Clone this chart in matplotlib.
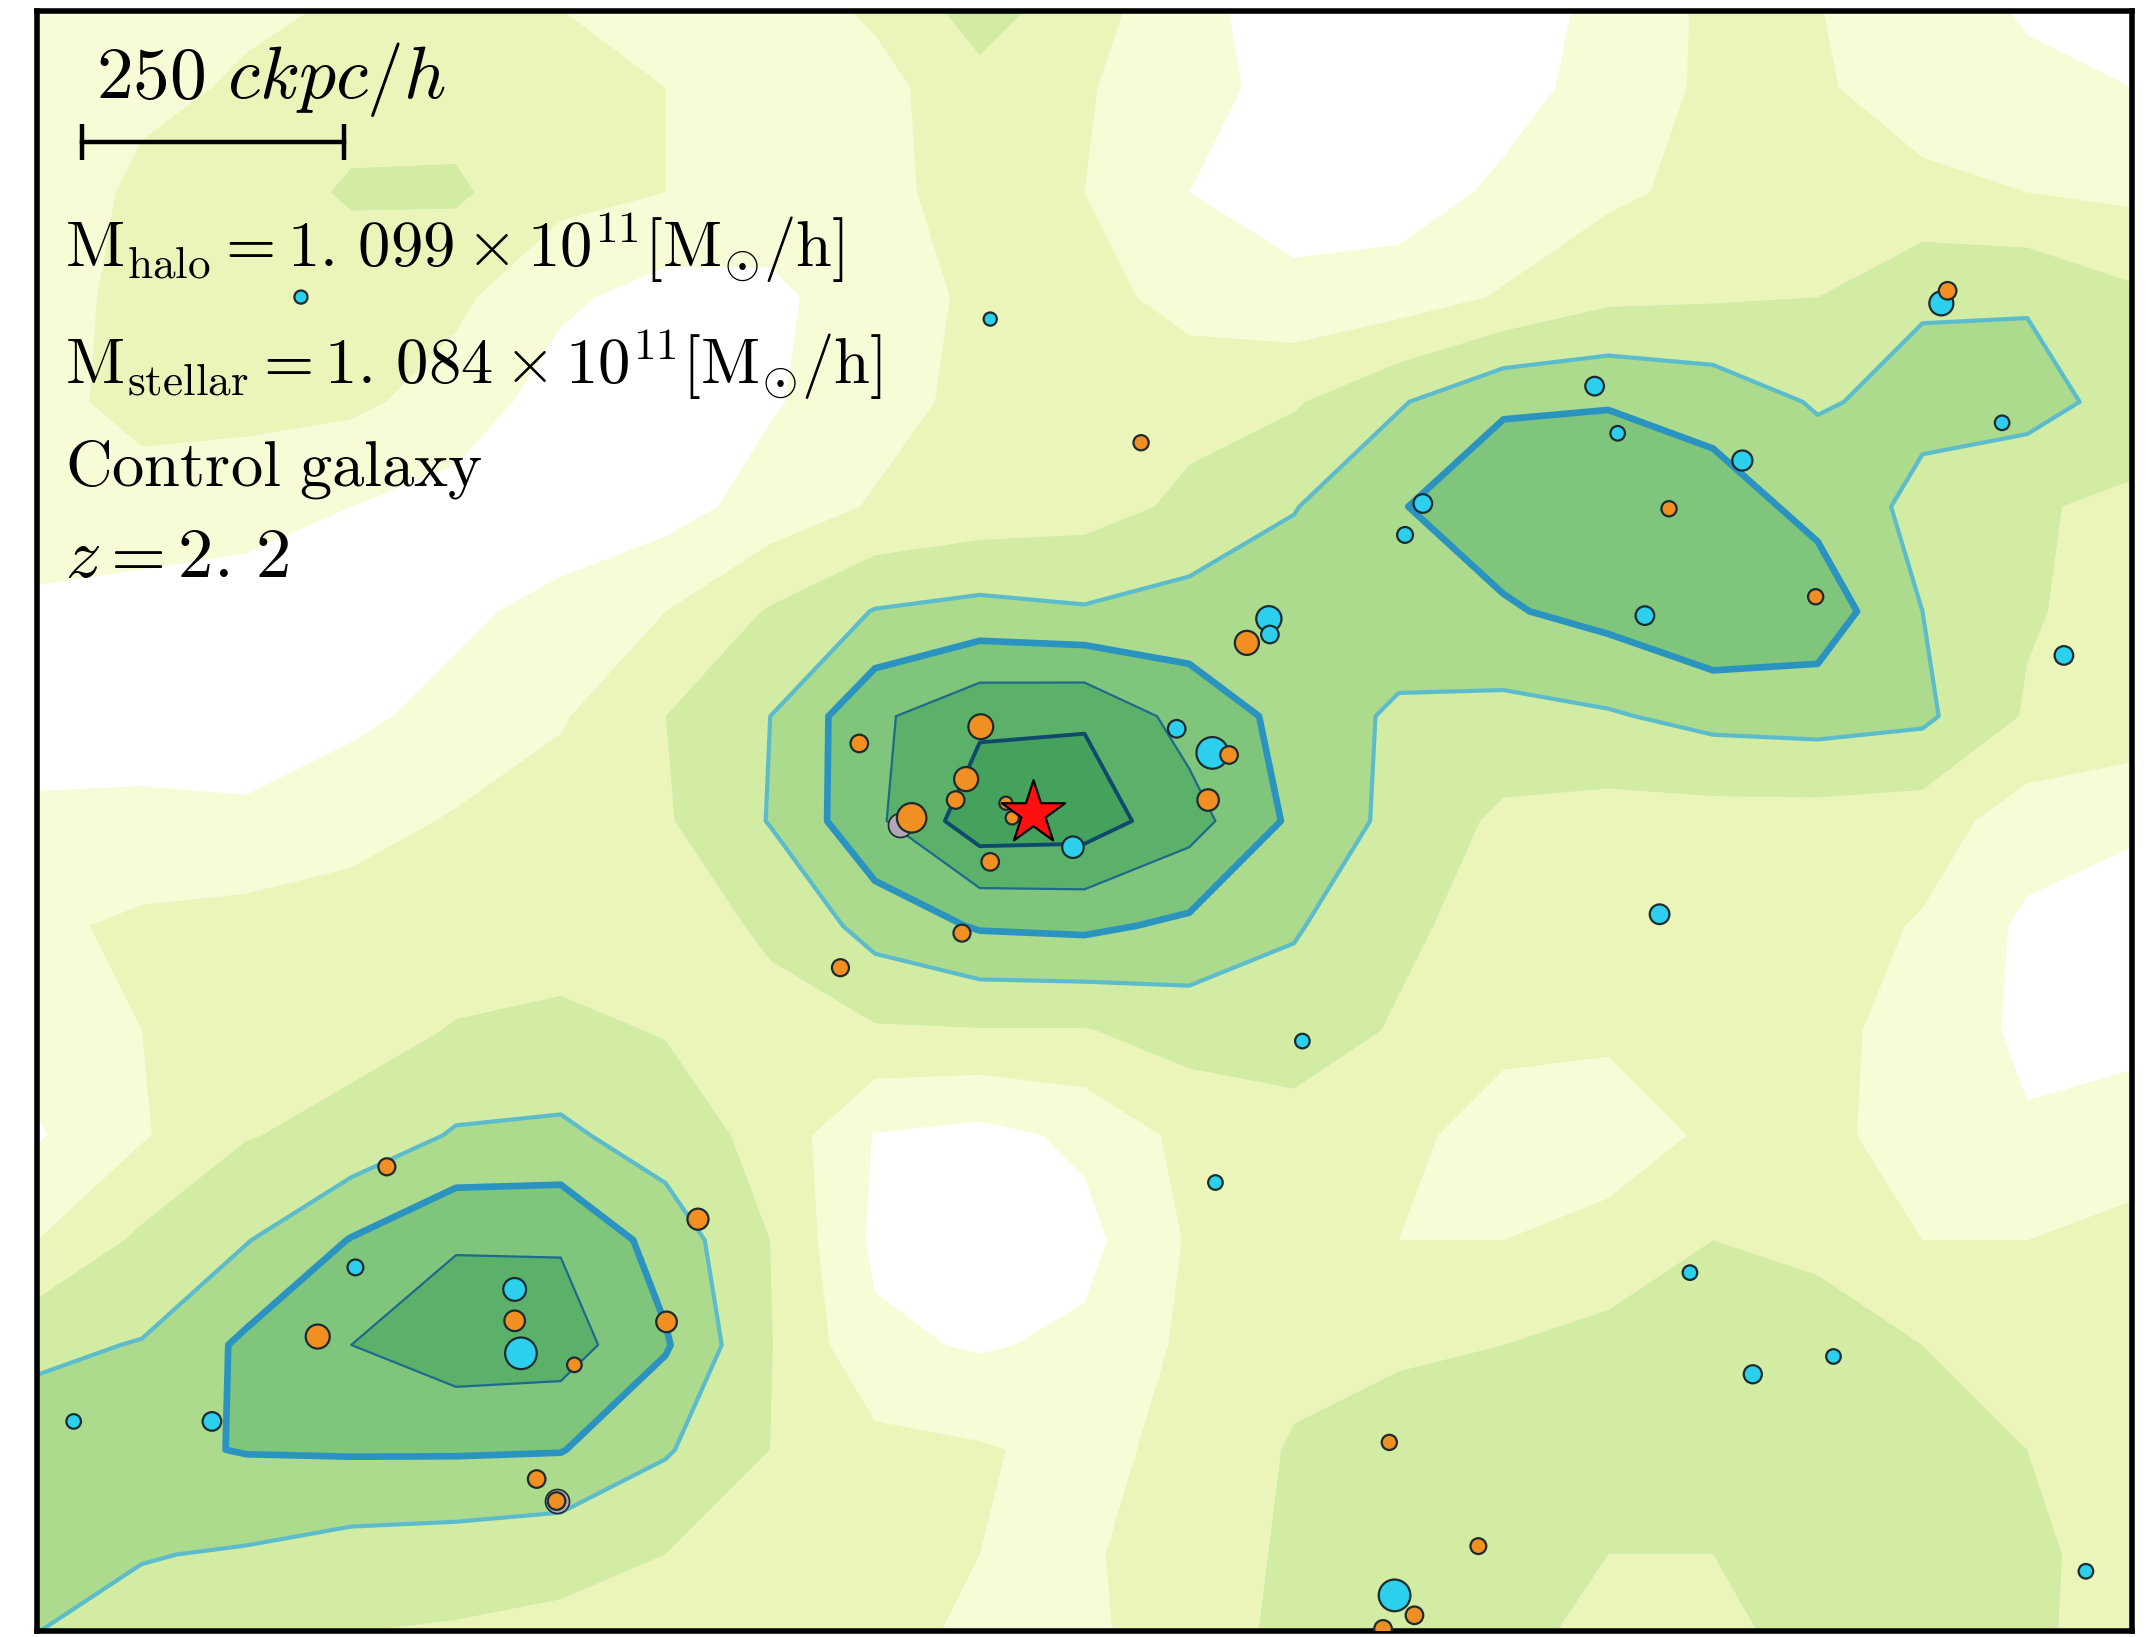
import numpy as np
import matplotlib
matplotlib.use("Agg")
import matplotlib.pyplot as plt

plt.rcParams['mathtext.fontset'] = 'cm'

# grid nodes of the smoothed density map (ckpc/h), rows listed from top to bottom
x_nodes = np.arange(-1000, 1001, 100)
y_nodes = np.arange(800, -801, -100)

# density level (0 = white ... 7+ = darkest green)
dens_rows = [
    [1.4, 1.6, 1.8, 2.0, 2.0, 1.9, 1.6, 1.7, 2.3, 3.9, 2.6, 1.3, 0.4, 0.2, 0.3, 1.3, 2.2, 2.0, 1.5, 0.7, 0.5],
    [1.5, 1.8, 2.1, 2.5, 2.6, 2.3, 2.0, 1.6, 1.7, 2.6, 2.1, 1.3, 0.7, 0.5, 0.6, 1.4, 2.2, 2.1, 1.6, 1.3, 1.0],
    [1.4, 2.2, 2.4, 3.15, 3.15, 2.3, 2.0, 1.5, 1.8, 2.3, 2.0, 1.0, 0.5, 0.5, 1.2, 1.8, 2.3, 2.5, 2.2, 2.0, 1.8],
    [1.6, 2.3, 2.4, 2.3, 2.2, 1.2, 0.6, 0.8, 1.5, 2.2, 2.4, 1.6, 1.3, 1.5, 2.1, 2.8, 2.9, 3.0, 3.9, 3.9, 3.2],
    [1.7, 2.3, 2.3, 2.2, 1.6, 0.5, 0.4, 0.9, 1.6, 2.3, 2.6, 2.7, 2.9, 3.9, 4.9, 4.95, 4.6, 3.9, 4.3, 4.4, 3.6],
    [1.6, 1.6, 1.4, 1.0, 0.6, 0.4, 0.6, 1.4, 2.1, 2.4, 2.6, 3.2, 3.95, 4.95, 5.5, 5.6, 5.5, 4.7, 3.7, 3.1, 2.8],
    [0.8, 0.6, 0.5, 0.6, 0.8, 1.3, 2.0, 3.1, 4.05, 4.3, 4.1, 4.4, 4.6, 4.7, 4.9, 5.3, 5.9, 5.6, 4.0, 3.1, 2.6],
    [0.5, 0.6, 0.7, 0.8, 1.3, 1.9, 3.0, 4.0, 5.8, 6.8, 6.9, 5.6, 4.7, 3.8, 3.7, 3.9, 4.3, 4.4, 4.2, 2.9, 2.7],
    [1.2, 1.2, 1.1, 1.6, 2.1, 2.5, 2.9, 4.05, 5.8, 7.6, 7.5, 6.4, 4.8, 3.7, 2.8, 2.6, 2.6, 2.6, 2.5, 1.5, 1.1],
    [1.8, 2.2, 2.4, 2.5, 2.6, 2.6, 2.7, 3.1, 4.4, 5.1, 5.2, 4.8, 4.1, 3.2, 2.6, 2.6, 2.6, 2.5, 1.9, 0.8, 0.7],
    [1.4, 2.0, 2.4, 2.7, 3.05, 3.2, 2.95, 2.8, 2.9, 2.95, 2.95, 3.4, 3.5, 2.9, 2.3, 2.2, 2.5, 2.3, 1.6, 0.8, 0.7],
    [0.9, 1.9, 2.95, 3.3, 4.1, 4.2, 3.5, 2.7, 0.95, 0.7, 1.2, 2.3, 2.6, 2.3, 1.5, 1.4, 2.2, 2.3, 1.5, 1.1, 1.5],
    [2.0, 3.2, 3.95, 5.05, 5.9, 5.9, 4.6, 3.0, 0.8, 0.5, 0.7, 2.1, 2.4, 2.0, 2.0, 2.4, 3.0, 2.8, 2.0, 2.0, 2.3],
    [3.8, 4.05, 5.2, 6.0, 6.6, 6.5, 5.1, 3.05, 1.2, 0.9, 1.2, 2.2, 2.7, 2.9, 3.0, 3.3, 3.5, 3.4, 3.0, 2.5, 2.3],
    [4.5, 4.8, 5.05, 5.1, 5.1, 5.05, 4.1, 3.0, 2.3, 2.1, 1.7, 2.3, 3.1, 3.3, 3.4, 3.5, 3.5, 3.5, 3.4, 3.0, 2.5],
    [4.3, 4.05, 3.9, 3.6, 3.5, 3.3, 3.0, 2.4, 2.2, 2.0, 1.9, 2.4, 3.2, 3.4, 3.3, 3.0, 3.0, 3.2, 3.4, 3.2, 2.6],
    [3.9, 3.5, 3.0, 2.8, 2.7, 2.6, 2.5, 2.2, 2.1, 1.9, 1.8, 2.5, 3.3, 3.5, 3.2, 2.6, 2.6, 3.3, 3.4, 3.2, 2.5],
]

fill_levels = [-10, 1, 2, 3, 4, 5, 6, 7, 20]
fill_colors = ['#ffffff', '#f7fbd6', '#ebf5b9', '#d2eca4', '#acdb8e',
               '#7fc57c', '#5cb16a', '#45a25d']
line_levels = [4, 5, 6, 7]
line_colors = ['#5cbccb', '#2b93c0', '#1e6a8a', '#0f4a6c']
line_widths = [3.0, 4.8, 1.6, 2.8]

# galaxies (ckpc/h)
cyan_x = [-748, -90, 818, 487, 509, 628, 876, 323, 306, 176, 177, 535, 935, 88, 122,
          -11, 549, 208, 125, 578, 638, 715, 956, 296, -965, -833, -696, -544, -538]
cyan_y = [500, 479, 494, 415, 370, 344, 380, 303, 273, 193, 178, 196, 158, 88, 65,
          -25, -89, -210, -345, -431, -528, -511, -716, -739, -573, -573, -426, -447, -508]
cyan_s = [90, 90, 300, 180, 110, 210, 110, 180, 130, 330, 160, 180, 180, 160, 520,
          240, 200, 110, 110, 110, 170, 110, 110, 520, 110, 180, 130, 270, 520]

orange_x = [54, 824, 558, 698, 155, 138, 118, -99, -215, -113, -123, -165, -75, -69,
            -90, -117, -233, -666, -369, -732, -544, -487, -399, -523, -504, 291, 376, 315, 285]
orange_y = [361, 506, 298, 214, 170, 63, 20, 90, 74, 40, 20, 3, 17, 3,
            -39, -107, -140, -330, -380, -492, -477, -519, -478, -628, -649, -593, -692, -758, -771]
orange_s = [120, 160, 120, 120, 300, 160, 240, 320, 160, 300, 160, 450, 90, 90,
            160, 150, 150, 150, 230, 300, 220, 110, 220, 160, 160, 120, 130, 160, 160]

faded_x = [-176, -504]
faded_y = [-4, -649]

star_x, star_y = -49, 8

bar_x0, bar_len, bar_y = -957, 250, 648

fig = plt.figure(figsize=(21.46, 16.37), dpi=100)
ax = fig.add_axes([37 / 2146, 6 / 1637, 2095 / 2146, 1620 / 1637])

Z = np.array(dens_rows)[::-1]
Y = y_nodes[::-1]
ax.contourf(x_nodes, Y, Z, levels=fill_levels, colors=fill_colors, antialiased=True)
ax.contour(x_nodes, Y, Z, levels=line_levels, colors=line_colors, linewidths=line_widths)

edge = '#1c2b30'
ax.scatter(faded_x, faded_y, s=300, c='#b3a7b5', edgecolors=edge, linewidths=1.2, zorder=3)
ax.scatter(cyan_x, cyan_y, s=cyan_s, c='#2cd0ec', edgecolors=edge, linewidths=1.6, zorder=4)
ax.scatter(orange_x, orange_y, s=orange_s, c='#f28f22', edgecolors=edge, linewidths=1.6, zorder=4)
ax.scatter([star_x], [star_y], s=2300, marker='*', c='#ff1010', edgecolors='black',
           linewidths=1.6, zorder=5)

# scale bar
ax.plot([bar_x0, bar_x0 + bar_len], [bar_y, bar_y], color='black', lw=3.2, zorder=6)
ax.vlines([bar_x0, bar_x0 + bar_len], bar_y - 17, bar_y + 17, color='black', lw=3.2, zorder=6)
ax.text(-944, 690, r'$250\ ckpc/h$', fontsize=53, va='baseline', ha='left', zorder=6)

ax.text(-973, 529, r'$\mathrm{M_{halo}}=1.\,099\times10^{11}[\mathrm{M}_{\odot}/\mathrm{h}]$',
        fontsize=46.5, va='baseline', ha='left', zorder=6)
ax.text(-973, 417, r'$\mathrm{M_{stellar}}=1.\,084\times10^{11}[\mathrm{M}_{\odot}/\mathrm{h}]$',
        fontsize=46.5, va='baseline', ha='left', zorder=6)
ax.text(-973, 320, r'$\mathrm{Control\ galaxy}$', fontsize=46.5, va='baseline', ha='left', zorder=6)
ax.text(-973, 233, r'$z=2.\,2$', fontsize=51, va='baseline', ha='left', zorder=6)

ax.set_xlim(-1000, 1000)
ax.set_ylim(-773, 773)
ax.set_xticks([])
ax.set_yticks([])
for sp in ax.spines.values():
    sp.set_linewidth(4)
    sp.set_color('black')

fig.savefig('out.png', dpi=100)
